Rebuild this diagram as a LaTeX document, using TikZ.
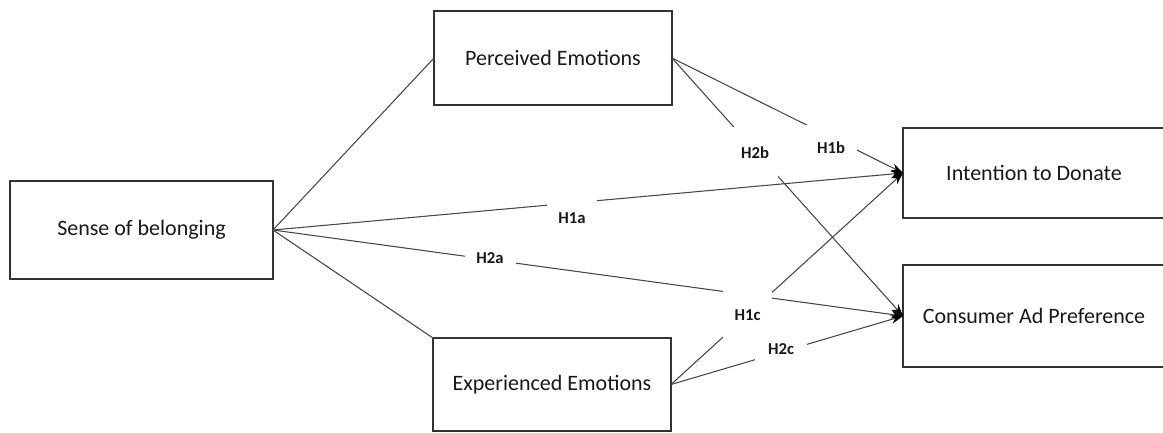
\documentclass[tikz,border=0pt]{standalone}
\usepackage{fontspec}
\setmainfont{Carlito}
\usetikzlibrary{arrows.meta}

\begin{document}
\begin{tikzpicture}[x=0.75pt,y=-0.75pt,
  construct/.style={draw=black!80,line width=0.8pt,fill=white,inner sep=0pt,outer sep=0pt,
    font=\fontsize{16.5}{19}\selectfont,text=black!90},
  link/.style={black!72,line width=0.8pt},
  hyp/.style={link,-{Stealth[length=9pt,width=6.5pt,black]}},
  hlabel/.style={fill=white,inner sep=0pt,text=black!90,font=\bfseries\fontsize{12.5}{14}\selectfont}]

\useasboundingbox (0,0) rectangle (1163,432);

%=== Constructs ===
\node[construct,minimum width=197.25pt,minimum height=73.5pt] (belong) at (141.5,230) {Sense of belonging};
\node[construct,minimum width=178.5pt,minimum height=70.5pt] (perceived) at (553,58) {Perceived Emotions};
\node[construct,minimum width=178.5pt,minimum height=69.75pt] (experienced) at (552,384.5) {Experienced Emotions};
\node[construct,minimum width=196.5pt,minimum height=67.5pt] (donate) at (1034,173) {Intention to Donate};
\node[construct,minimum width=196.5pt,minimum height=76.5pt] (adpref) at (1034,316) {Consumer Ad Preference};

%=== Paths from sense of belonging ===
\draw[link] (belong.east) -- (perceived.west);
\draw[link] (belong.east) -- (experienced.north west);
\draw[hyp] (belong.east) -- (donate.west);
\draw[hyp] (belong.east) -- (adpref.west);

%=== Paths from the emotions ===
\draw[hyp] (perceived.east) -- (donate.west);
\draw[hyp] (perceived.east) -- (adpref.west);
\draw[hyp] (experienced.east) -- (donate.west);
\draw[hyp] (experienced.east) -- (adpref.west);

%=== Hypothesis labels (white boxes break the lines) ===
\node[hlabel,minimum width=37.5pt,minimum height=33pt] (h1a) at (572,218) {H1a};
\node[hlabel,minimum width=38.25pt,minimum height=18pt] (h2a) at (490,258) {H2a};
\node[hlabel,minimum width=39pt,minimum height=34.5pt] (h1b) at (831,148) {H1b};
\node[hlabel,minimum width=34.5pt,minimum height=39pt] (h2b) at (755,153) {H2b};
\node[hlabel,minimum width=36.75pt,minimum height=37.5pt] (h1c) at (747.5,315) {H1c};
\node[hlabel,minimum width=39pt,minimum height=21pt] (h2c) at (781,349) {H2c};

\end{tikzpicture}
\end{document}
